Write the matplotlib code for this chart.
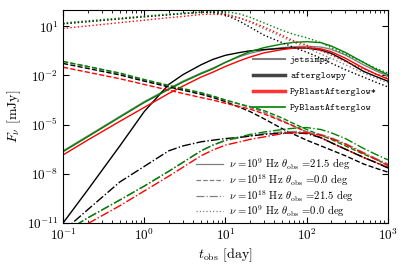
import numpy as np
import matplotlib
matplotlib.use("Agg")
import matplotlib.pyplot as plt
from matplotlib.lines import Line2D

plt.rcParams["font.family"] = "serif"
plt.rcParams["font.serif"] = ["cmr10"]
plt.rcParams["mathtext.fontset"] = "cm"
plt.rcParams["axes.formatter.use_mathtext"] = True

# observer time grid [day]
t_obs = [0.1, 0.2, 0.5, 1, 2, 3, 5, 7, 10, 15, 20, 30, 50, 70, 100,
         150, 200, 300, 500, 700, 1000]

# log10 F_nu [mJy]; nu=1e9 Hz, theta_obs=21.5 deg (solid)
radio_off_jetsimpy = [-6.6, -5.7, -4.5, -3.6, -2.8, -2.35, -1.85, -1.55, -1.2, -0.85, -0.65,
                      -0.45, -0.3, -0.25, -0.22, -0.27, -0.4, -0.75, -1.35, -1.7, -2.05]
radio_off_afterglowpy = [-11.0, -9.0, -6.3, -4.2, -2.55, -1.95, -1.35, -1.02, -0.77, -0.6, -0.5,
                         -0.42, -0.35, -0.32, -0.33, -0.45, -0.65, -1.1, -1.75, -2.05, -2.35]
radio_off_pba_star = [-6.85, -5.95, -4.8, -3.95, -3.1, -2.65, -2.1, -1.8, -1.45, -1.1, -0.88,
                      -0.62, -0.42, -0.33, -0.3, -0.38, -0.55, -0.95, -1.55, -1.9, -2.22]
radio_off_pba = [-6.65, -5.75, -4.55, -3.65, -2.85, -2.4, -1.9, -1.6, -1.2, -0.8, -0.55,
                 -0.3, -0.08, 0.02, 0.06, 0.0, -0.2, -0.6, -1.2, -1.6, -1.95]

# nu=1e18 Hz, theta_obs=0 deg (dashed)
xray_on_jetsimpy = [-1.15, -1.45, -1.9, -2.3, -2.65, -2.85, -3.1, -3.3, -3.5, -3.75, -3.95,
                    -4.25, -4.75, -5.1, -5.45, -5.8, -6.1, -6.5, -7.0, -7.3, -7.6]
xray_on_afterglowpy = [-1.27, -1.57, -1.97, -2.35, -2.7, -2.9, -3.15, -3.35, -3.6, -3.95, -4.2,
                       -4.65, -5.25, -5.6, -5.95, -6.3, -6.55, -6.9, -7.4, -7.65, -7.9]
xray_on_pba_star = [-1.5, -1.8, -2.2, -2.55, -2.9, -3.1, -3.35, -3.5, -3.7, -3.9, -4.05,
                    -4.35, -4.8, -5.1, -5.45, -5.8, -6.1, -6.5, -7.0, -7.3, -7.6]
xray_on_pba = [-1.15, -1.45, -1.85, -2.25, -2.6, -2.8, -3.05, -3.25, -3.5, -3.75, -3.9,
               -4.15, -4.6, -4.95, -5.3, -5.65, -5.9, -6.3, -6.8, -7.1, -7.45]

# nu=1e18 Hz, theta_obs=21.5 deg (dash-dot)
xray_off_jetsimpy = [-11.6, -10.7, -9.6, -8.75, -7.85, -7.3, -6.6, -6.25, -5.98, -5.8, -5.68,
                     -5.55, -5.45, -5.42, -5.45, -5.6, -5.8, -6.15, -6.7, -7.05, -7.4]
xray_off_afterglowpy = [-11.5, -10.2, -8.5, -7.55, -6.6, -6.3, -6.05, -5.95, -5.85, -5.78, -5.7,
                        -5.6, -5.52, -5.5, -5.55, -5.8, -6.1, -6.5, -7.0, -7.3, -7.65]
xray_off_pba_star = [-12.0, -11.05, -9.95, -9.05, -8.15, -7.6, -6.9, -6.55, -6.25, -6.05, -5.9,
                     -5.75, -5.55, -5.5, -5.5, -5.65, -5.85, -6.2, -6.75, -7.1, -7.5]
xray_off_pba = [-11.6, -10.7, -9.6, -8.75, -7.85, -7.3, -6.6, -6.25, -5.95, -5.75, -5.6,
                -5.45, -5.3, -5.22, -5.18, -5.3, -5.5, -5.85, -6.45, -6.8, -7.15]

# nu=1e9 Hz, theta_obs=0 deg (dotted)
radio_on_jetsimpy = [1.15, 1.28, 1.45, 1.58, 1.7, 1.77, 1.85, 1.87, 1.8, 1.5, 1.25,
                     0.85, 0.35, 0.0, -0.3, -0.7, -0.95, -1.35, -1.85, -2.15, -2.45]
radio_on_afterglowpy = [1.15, 1.28, 1.45, 1.58, 1.7, 1.77, 1.85, 1.85, 1.7, 1.3, 0.95,
                        0.45, 0.0, -0.3, -0.58, -0.95, -1.25, -1.65, -2.1, -2.4, -2.7]
radio_on_pba_star = [0.87, 1.02, 1.22, 1.37, 1.52, 1.6, 1.72, 1.74, 1.7, 1.5, 1.3,
                     0.95, 0.45, 0.1, -0.15, -0.5, -0.75, -1.15, -1.6, -1.9, -2.15]
radio_on_pba = [1.2, 1.33, 1.5, 1.62, 1.74, 1.8, 1.88, 1.91, 1.9, 1.75, 1.55,
                1.2, 0.75, 0.5, 0.3, 0.0, -0.3, -0.7, -1.2, -1.55, -1.85]

codes = ["jetsimpy", "afterglowpy", "PyBlastAfterglow*", "PyBlastAfterglow"]
colors = ["gray", "black", "red", "green"]
linestyles = ["-", "--", "-.", ":"]
setups = [
    r"$\nu$ =$10^{9}$ Hz $\theta_{\rm obs}$ =21.5 deg",
    r"$\nu$ =$10^{18}$ Hz $\theta_{\rm obs}$ =0.0 deg",
    r"$\nu$ =$10^{18}$ Hz $\theta_{\rm obs}$ =21.5 deg",
    r"$\nu$ =$10^{9}$ Hz $\theta_{\rm obs}$ =0.0 deg",
]
curves = [
    [radio_off_jetsimpy, radio_off_afterglowpy, radio_off_pba_star, radio_off_pba],
    [xray_on_jetsimpy, xray_on_afterglowpy, xray_on_pba_star, xray_on_pba],
    [xray_off_jetsimpy, xray_off_afterglowpy, xray_off_pba_star, xray_off_pba],
    [radio_on_jetsimpy, radio_on_afterglowpy, radio_on_pba_star, radio_on_pba],
]

fig = plt.figure(figsize=(4.07, 2.67), dpi=100)
ax = fig.add_axes([0.155, 0.165, 0.798, 0.798])

t = np.array(t_obs)
for ls, group in zip(linestyles, curves):
    for color, logf in zip(colors, group):
        ax.plot(t, 10.0 ** np.array(logf), color=color, ls=ls, lw=1.0)

ax.set_xscale("log")
ax.set_yscale("log")
ax.set_xlim(1e-1, 1e3)
ax.set_ylim(1e-11, 1e2)
ax.set_yticks([1e-11, 1e-8, 1e-5, 1e-2, 1e1])
ax.yaxis.set_minor_locator(matplotlib.ticker.NullLocator())
ax.tick_params(axis="both", which="both", direction="in", top=True, right=True, labelsize=9.5)
ax.tick_params(which="major", length=4)
ax.tick_params(which="minor", length=2)
ax.set_xlabel(r"$t_{\rm obs}$ [day]", fontsize=10, labelpad=2)
ax.set_ylabel(r"$F_{\nu}$ [mJy]", fontsize=10, labelpad=3)

code_handles = [
    Line2D([], [], color="gray", lw=1.5),
    Line2D([], [], color="#444444", lw=2.5),
    Line2D([], [], color="red", lw=2.5, alpha=0.8),
    Line2D([], [], color="green", lw=1.2),
]
leg1 = ax.legend(code_handles, codes, loc="upper left", bbox_to_anchor=(0.585, 0.785),
                 frameon=False, prop={"family": "cmtt10", "size": 7},
                 handlelength=3.3, handletextpad=0.5, labelspacing=0.72,
                 borderpad=0, borderaxespad=0)
ax.add_artist(leg1)

setup_handles = [Line2D([], [], color="gray", lw=0.9, ls=ls) for ls in linestyles]
ax.legend(setup_handles, setups, loc="upper left", bbox_to_anchor=(0.409, 0.312),
          frameon=False, fontsize=7.7, handlelength=2.5, handletextpad=0.55,
          labelspacing=0.0, borderpad=0, borderaxespad=0)

fig.savefig("out.png", dpi=100)
